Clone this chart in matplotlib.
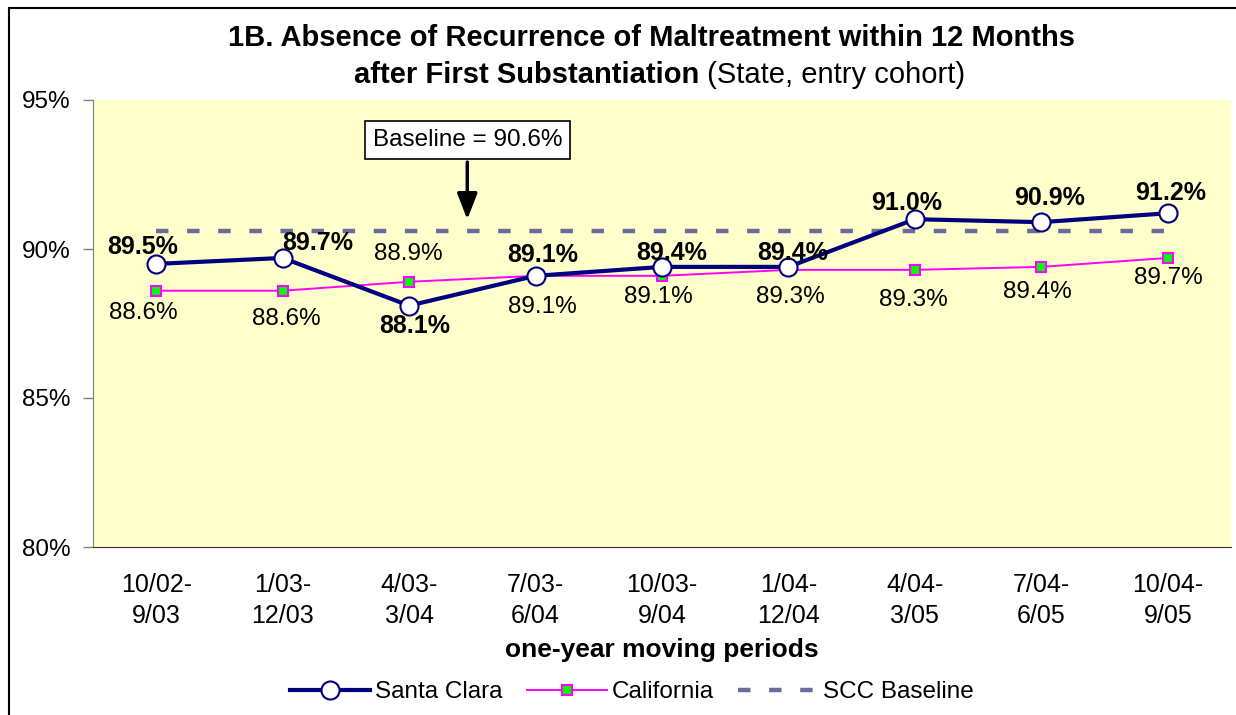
import matplotlib
matplotlib.use("Agg")
import matplotlib.pyplot as plt
from matplotlib.patches import Rectangle

plt.rcParams['font.family'] = ['Liberation Sans', 'DejaVu Sans']

# one-year moving periods
periods = ["10/02-\n9/03", "1/03-\n12/03", "4/03-\n3/04", "7/03-\n6/04", "10/03-\n9/04",
           "1/04-\n12/04", "4/04-\n3/05", "7/04-\n6/05", "10/04-\n9/05"]
santa_clara = [89.5, 89.7, 88.1, 89.1, 89.4, 89.4, 91.0, 90.9, 91.2]
california = [88.6, 88.6, 88.9, 89.1, 89.1, 89.3, 89.3, 89.4, 89.7]
baseline = 90.6
y_ticks = [80, 85, 90, 95]

# label offsets in pixels (dx, dy) so labels don't collide
sc_offsets = [(-14, 17), (35, 15), (6, -20), (7, 21), (10, 14), (4, 14), (-8, 16), (8, 24), (3, 20)]
ca_offsets = [(-13, -22), (4, -28), (-1, 28), (7, -31), (-4, -21), (2, -27), (-2, -30), (-4, -25), (1, -20)]

W, H = 1236, 715
fig = plt.figure(figsize=(W / 100, H / 100), dpi=100)
ax = fig.add_axes([93 / W, 1 - 547 / H, 1138 / W, 447 / H])
ax.set_facecolor('#ffffcc')

x = list(range(len(periods)))
ax.plot(x, [baseline] * len(x), color='#6b6b9e', lw=3.2, linestyle=(0, (2.8, 4.2)),
        label='SCC Baseline', zorder=2)
ax.plot(x, california, color='#ff00ff', lw=1.4, marker='s', markersize=7,
        markerfacecolor='#00ff00', markeredgecolor='#ff00ff', markeredgewidth=1.5,
        label='California', zorder=3)
ax.plot(x, santa_clara, color='#000080', lw=3, marker='o', markersize=13,
        markerfacecolor='white', markeredgecolor='#000080', markeredgewidth=1.5,
        label='Santa Clara', zorder=4)

for i, v in enumerate(santa_clara):
    ax.annotate(f"{v:.1f}%", (i, v), xytext=sc_offsets[i], textcoords='offset pixels',
                ha='center', va='center', fontsize=18, fontweight='bold', zorder=5)
for i, v in enumerate(california):
    ax.annotate(f"{v:.1f}%", (i, v), xytext=ca_offsets[i], textcoords='offset pixels',
                ha='center', va='center', fontsize=17.5, zorder=5)

ax.annotate(f"Baseline = {baseline}%", xy=(2.46, 90.9), xytext=(2.46, 93.66),
            ha='center', va='center', fontsize=17.5,
            bbox=dict(boxstyle='square,pad=0.32', facecolor='white', edgecolor='black', lw=1.2),
            arrowprops=dict(arrowstyle='-|>,head_width=0.35,head_length=0.9', color='black', lw=2.5))

ax.set_xlim(-0.5, len(periods) - 0.5)
ax.set_ylim(80, 95)
ax.set_yticks(y_ticks)
ax.set_yticklabels([f"{t}%" for t in y_ticks], fontsize=17.5)
ax.set_xticks(x)
ax.set_xticklabels(periods, fontsize=18, linespacing=1.37)
ax.tick_params(axis='x', length=0, pad=19)
ax.tick_params(axis='y', length=7, width=1, color='#808080', pad=9)

for s in ['top', 'right']:
    ax.spines[s].set_visible(False)
ax.spines['left'].set_color('#808080')
ax.spines['bottom'].set_color('#333333')

fig.text(651 / W, 1 - 38 / H, "1B. Absence of Recurrence of Maltreatment within 12 Months",
         ha='center', va='center', fontsize=21, fontweight='bold')
fig.text(699 / W, 1 - 75 / H, "after First Substantiation", ha='right', va='center',
         fontsize=21, fontweight='bold')
fig.text(699 / W, 1 - 75 / H, " (State, entry cohort)", ha='left', va='center', fontsize=21)

fig.text(662 / W, 1 - 650 / H, "one-year moving periods", ha='center', va='center',
         fontsize=19, fontweight='bold')

handles, labels = ax.get_legend_handles_labels()
fig.legend(handles[::-1], labels[::-1], loc='center', bbox_to_anchor=(632 / W, 1 - 692 / H),
           ncol=3, frameon=False, fontsize=17.5, handlelength=3.3, columnspacing=1.0,
           handletextpad=0.2)

fig.patches.append(Rectangle((9 / W, -0.1), 1.2, 1.1 - 8 / H, transform=fig.transFigure,
                             fill=False, edgecolor='black', lw=1.5))

fig.savefig("out.png", dpi=100)
